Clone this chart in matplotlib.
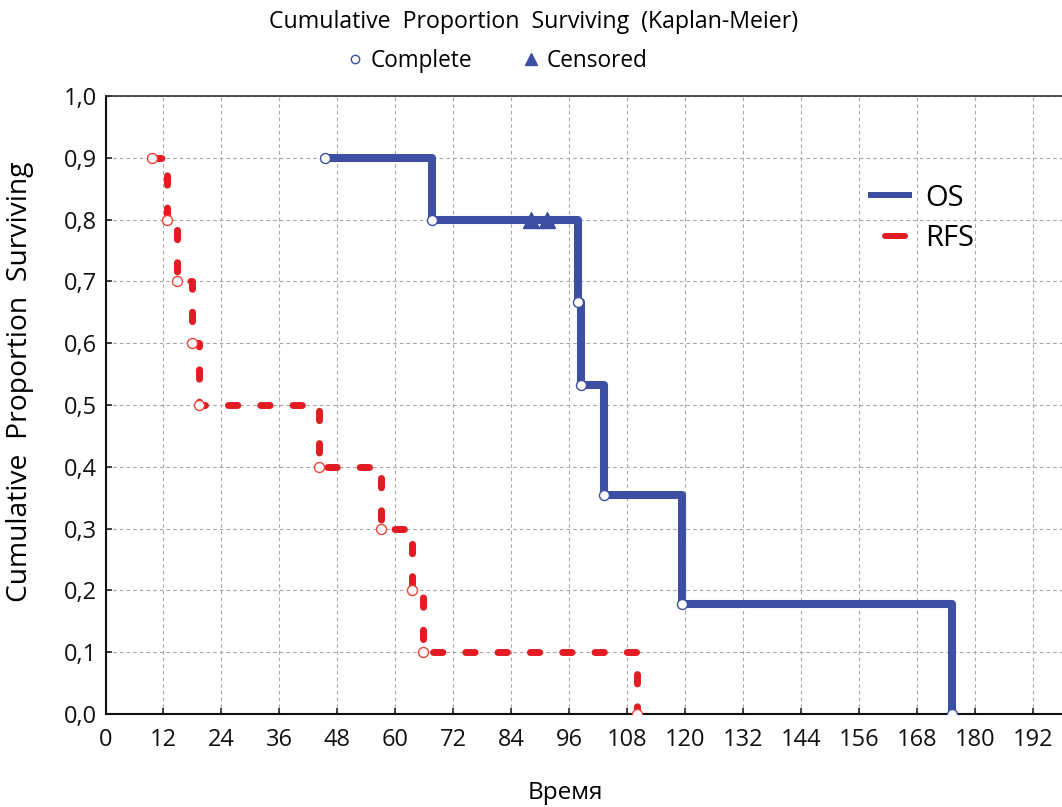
import matplotlib
matplotlib.use('Agg')
import matplotlib.pyplot as plt
from matplotlib.lines import Line2D

# ---- data ----
os_time = [45.4, 67.6, 97.8, 98.3, 103.2, 119.3, 175.2]
os_surv = [0.9, 0.8, 0.667, 0.533, 0.355, 0.178, 0.0]
os_cens_time = [88.0, 91.3]
os_cens_surv = [0.8, 0.8]
rfs_time = [9.6, 12.7, 14.8, 17.9, 19.3, 44.2, 57.1, 63.4, 65.6, 109.9]
rfs_surv = [0.9, 0.8, 0.7, 0.6, 0.5, 0.4, 0.3, 0.2, 0.1, 0.0]
x_ticks = list(range(0, 193, 12))
y_ticks = [0.0, 0.1, 0.2, 0.3, 0.4, 0.5, 0.6, 0.7, 0.8, 0.9, 1.0]
y_tick_labels = ['0,0', '0,1', '0,2', '0,3', '0,4', '0,5', '0,6', '0,7', '0,8', '0,9', '1,0']
series_names = ['OS', 'RFS']

BLUE = '#3d4fa3'
RED = '#e31b23'
RED_EDGE = '#ef4136'

plt.rcParams['font.family'] = ['Open Sans', 'DejaVu Sans']

W, H = 1062, 807
fig = plt.figure(figsize=(W / 100, H / 100), dpi=100)
x0_px, x1_px, ytop_px, ybot_px = 105.5, 1062, 96, 714
ax = fig.add_axes([x0_px / W, 1 - ybot_px / H, (x1_px - x0_px) / W, (ybot_px - ytop_px) / H])
ax.set_xlim(0, (x1_px - x0_px) / 4.833)
ax.set_ylim(0, 1)

ax.set_xticks(x_ticks)
ax.set_yticks(y_ticks)
ax.set_yticklabels(y_tick_labels)
ax.set_axisbelow(True)
ax.grid(True, color='#a6a6a6', lw=0.8, linestyle=(0, (3.2, 2.8)))

for side in ['left', 'bottom']:
    ax.spines[side].set_linewidth(1.5)
    ax.spines[side].set_color('#111111')
ax.spines['top'].set_linewidth(1.2)
ax.spines['top'].set_color('#333333')
ax.spines['right'].set_visible(False)
ax.tick_params(direction='in', length=4.5, width=1.1, labelsize=17, colors='#111111')
ax.tick_params(axis='x', pad=10)
ax.tick_params(axis='y', pad=6)

# OS
ax.step(os_time, os_surv, where='post', color=BLUE, lw=5.8,
        solid_joinstyle='round', solid_capstyle='butt', zorder=3)
ax.plot(os_time, os_surv, 'o', ms=7.2, mfc='white', mec=BLUE, mew=1.0, zorder=5)
ax.plot(os_cens_time, os_cens_surv, '^', ms=11, color=BLUE, zorder=4)

# RFS
ax.step(rfs_time, rfs_surv, where='post', color=RED, lw=5.0,
        linestyle=(0, (1.35, 3.3)), dash_capstyle='round', zorder=3)
ax.plot(rfs_time, rfs_surv, 'o', ms=7.2, mfc='white', mec=RED_EDGE, mew=1.0, zorder=5)

# right legend
h_os = Line2D([], [], color=BLUE, lw=4.3, solid_capstyle='butt')
h_rfs = Line2D([], [], color=RED, lw=4.3, linestyle=(10.5, (3.35, 10.0)), dash_capstyle='round')
ax.legend([h_os, h_rfs], series_names, loc='center left',
          bbox_to_anchor=((868 - x0_px) / (x1_px - x0_px), (ybot_px - 218.5) / (ybot_px - ytop_px)),
          frameon=False, fontsize=21, handlelength=1.51, handletextpad=0.45,
          borderpad=0, borderaxespad=0, labelspacing=0.4)

# top legend
h_complete = Line2D([], [], marker='o', ls='none', ms=6, mfc='white', mec=BLUE, mew=1.0)
h_censored = Line2D([], [], marker='^', ls='none', ms=8, color=BLUE)
fig.legend([h_complete, h_censored], ['Complete', 'Censored'], loc='center',
           bbox_to_anchor=(497 / W, 1 - 61 / H), ncol=2, frameon=False, fontsize=16.3,
           handletextpad=0.3, columnspacing=2.2, handlelength=0.8, borderpad=0)

fig.text(534 / W, 1 - 22 / H, 'Cumulative  Proportion  Surviving  (Kaplan-Meier)',
         ha='center', va='center', fontsize=16.7)
fig.text(20 / W, 1 - 382 / H, 'Cumulative  Proportion  Surviving', rotation=90,
         ha='center', va='center', fontsize=20.3)
fig.text(565 / W, 1 - 793 / H, 'Время', ha='center', va='center', fontsize=17.5)

fig.savefig('out.png', dpi=100)
